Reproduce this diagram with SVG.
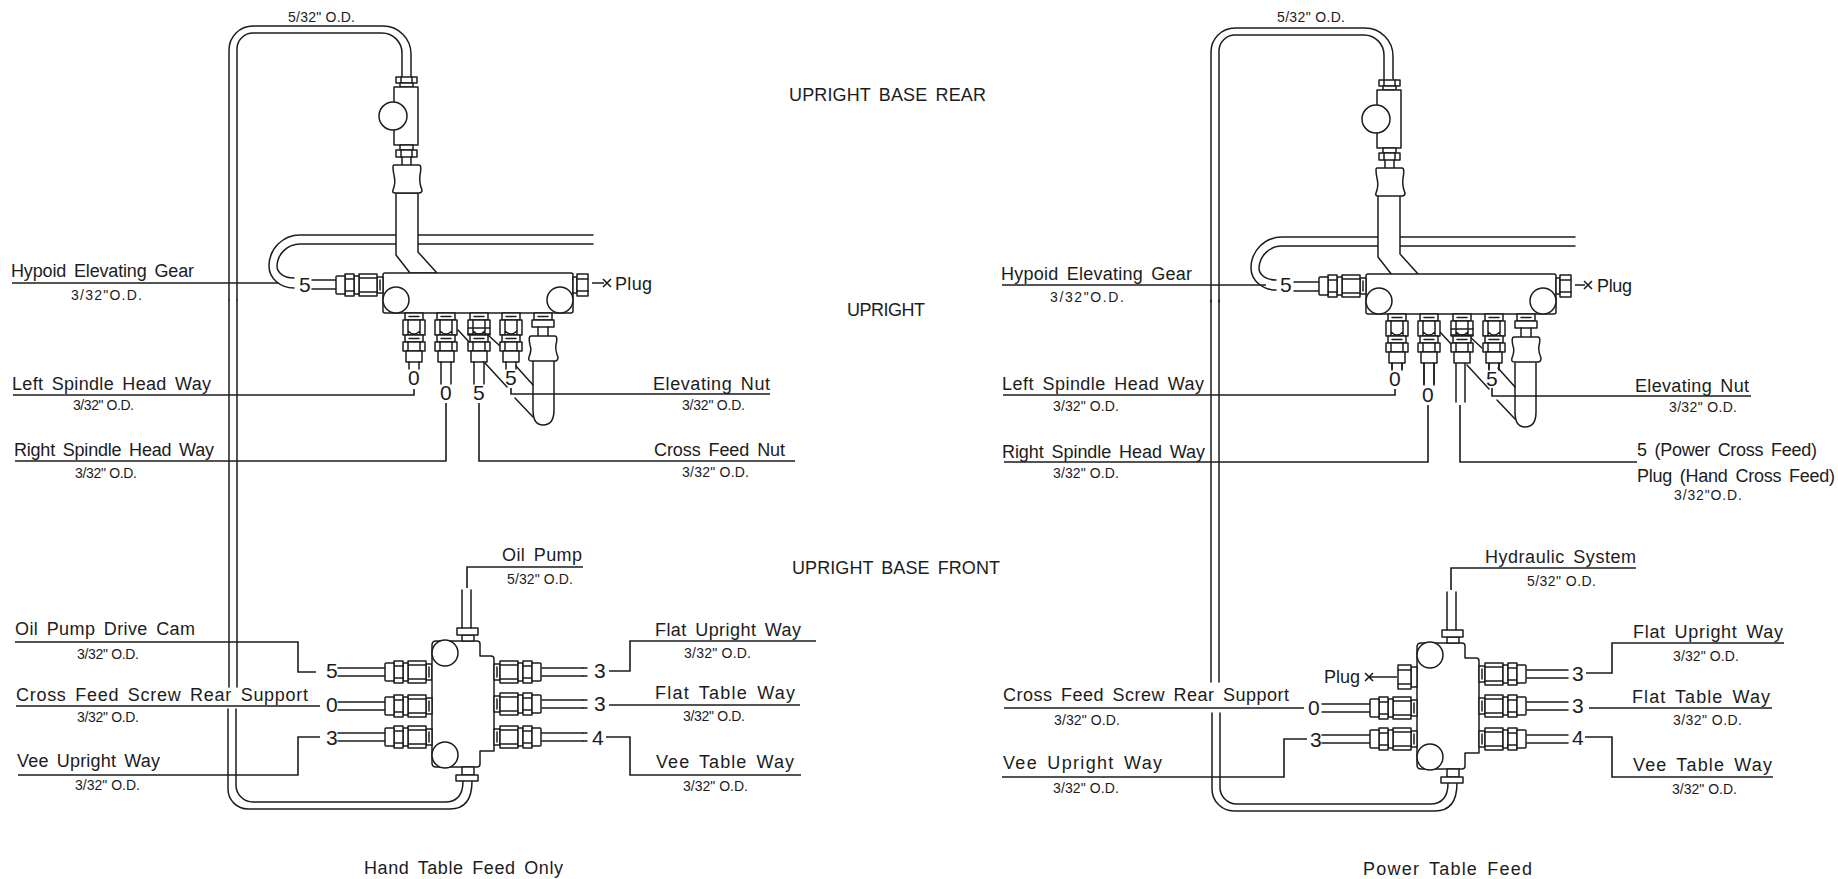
<svg xmlns="http://www.w3.org/2000/svg" width="1838" height="879" viewBox="0 0 1838 879">
<style>
.p{fill:none;stroke:#1c1c1c;stroke-width:1.5;stroke-linecap:round;stroke-linejoin:round}
.f{fill:#fff;stroke:#1c1c1c;stroke-width:1.5;stroke-linejoin:round}
.ld{fill:none;stroke:#1c1c1c;stroke-width:1.6}
text{font-family:"Liberation Sans",Arial,sans-serif;fill:#1c1c1c}
.l{font-size:18px;word-spacing:3px}
.s{font-size:14px}
.h{font-size:18px;word-spacing:3px}
.d{font-size:21px}
</style>
<defs>
<g id="fitH">
<rect class="f" x="-6" y="-8" width="6" height="16"/><path class="p" d="M-3-5V5"/>
<path class="f" d="M-24-11H-6V11H-24Z"/><path class="p" d="M-24-7H-6M-24 7H-6"/>
<rect class="f" x="-29" y="-9" width="5" height="18"/>
<path class="f" d="M-38-11H-29V11H-38Z"/><path class="p" d="M-38-6H-29M-38 6H-29"/>
<path class="f" d="M-38-9H-46Q-47-9-47-8V8Q-47 9-46 9H-38Z"/>
</g>
<g id="fitV">
<rect class="f" x="-9" y="0" width="18" height="7"/><path class="p" d="M-5 3.500H5"/>
<path class="f" d="M-11 7H11V22H-11Z"/><path class="p" d="M-6 7V22M6 7V22M-6 18Q0 24 6 18"/>
<rect class="f" x="-9" y="22" width="18" height="7"/><path class="p" d="M-5 25.500H5"/>
<path class="f" d="M-11 29H11V38H-11Z"/><path class="p" d="M-6 29V38M6 29V38"/>
<rect class="f" x="-8" y="38" width="16" height="11"/>
</g>
<g id="upperTube">
<path class="p" d="M593 235H300A31 31 0 0 0 269 266C269 278 280 288 294 288"/>
<path class="p" d="M593 244H300A23 23 0 0 0 277 266C277 273 284 278 294 278"/>
<path class="p" d="M312 280H337M312 289H337"/>
<path class="p" d="M402 77V53A20 20 0 0 0 382 33H253A16 16 0 0 0 237 49V300"/>
<path class="p" d="M411 77V54A28 28 0 0 0 383 26H253A24 24 0 0 0 229 50V300"/>
<path class="f" d="M396 193V255L410 273H437L418 252V193Z"/>
<path class="p" d="M533 361V410Q533 425 543 425Q554 425 554 410V361"/>
<path class="p" d="M515 398L533 417M516 366L533 385M485 363L507 387M458 330L470 343M488 335L500 346"/>
</g>
<g id="upperManifold">
<rect class="f" x="383" y="273" width="190" height="40" rx="2"/>
<circle class="f" cx="396" cy="300" r="13"/><circle class="f" cx="560" cy="300" r="13"/>
<use href="#fitH" x="383" y="285"/>
<rect class="f" x="573" y="277" width="4" height="16"/>
<path class="f" d="M577 274H588V296H577Z"/><path class="p" d="M577 279H588M577 291H588"/>
<use href="#fitV" x="414" y="313"/><use href="#fitV" x="446" y="313"/><use href="#fitV" x="479" y="313"/><use href="#fitV" x="511" y="313"/>
<path class="p" d="M468 328H490M468 334H490"/>
<path class="p" d="M409 362V369M419 362V369M441 362V384M451 362V384M506 362V369M516 362V369"/>
<rect class="f" x="534" y="313" width="18" height="7"/><path class="p" d="M538 316.500H548"/>
<path class="f" d="M532 320H554V327H532Z"/><path class="p" d="M538 327V336M548 327V336"/>
<path class="f" d="M531 336H555Q558 336 556 345Q555 350 558 357Q558 361 555 361H531Q528 361 529 357Q532 350 530 345Q528 336 531 336Z"/>
</g>
<g id="valve">
<path class="f" d="M396 77H417V83H396Z"/><path class="p" d="M401 77V83M412 77V83"/>
<rect class="f" x="400" y="83" width="13" height="4"/>
<rect class="f" x="394" y="87" width="24" height="58"/>
<circle class="f" cx="393" cy="116" r="14"/>
<rect class="f" x="400" y="145" width="13" height="5"/>
<path class="f" d="M396 150H417V157H396Z"/><path class="p" d="M401 150V157M412 150V157"/>
<path class="p" d="M402 157V165M411 157V165"/>
<path class="f" d="M394 165H419Q422 165 420 175Q419 183 422 190Q422 193 419 193H395Q392 193 393 190Q396 183 394 175Q392 165 394 165Z"/>
</g>
<g id="lowerManifold">
<path class="f" d="M436 641H477Q480 641 480 644V656H491Q494 656 494 659V751H480V764Q480 767 477 767H436Q432 767 432 763V645Q432 641 436 641Z"/>
<circle class="f" cx="445" cy="653" r="13"/><circle class="f" cx="445" cy="755" r="13"/>
<rect class="f" x="462" y="635" width="12" height="6"/>
<path class="f" d="M457 628H478V635H457Z"/>
<path class="p" d="M462 590V628M471 590V628"/>
<rect class="f" x="462" y="767" width="12" height="8"/>
<path class="f" d="M456 775H478V781H456Z"/>
<use href="#fitH" x="432" y="706"/><use href="#fitH" x="432" y="737"/>
<use href="#fitH" transform="translate(494 672) scale(-1 1)"/><use href="#fitH" transform="translate(494 704) scale(-1 1)"/><use href="#fitH" transform="translate(494 737) scale(-1 1)"/>
<path class="p" d="M542 668H583M542 676H583M542 700H583M542 708H583M542 733H583M542 741H583"/>
</g>
</defs>
<rect width="1838" height="879" fill="#fff"/>
<g id="connectors">
<use href="#upperTube"/>
<use href="#upperTube" x="982" y="2"/>
<path class="p" d="M229 300V687M237 300V687M228 709V789A20 20 0 0 0 248 809H450Q472 809 472 781M236 709V785A17 17 0 0 0 253 802H445Q463 802 463 781"/>
<path class="p" d="M1211 300V682M1219 300V682M1212 713V789A22 22 0 0 0 1234 811H1435Q1457 811 1457 783M1220 713V786A17 17 0 0 0 1237 804H1430Q1448 804 1448 783"/>
<path class="p" d="M338 668H385M338 676H385M338 702H385M338 710H385M338 733H385M338 741H385M583 668H587M583 676H587M583 700H587M583 708H587M583 733H587M583 741H587"/>
<path class="ld" d="M12 283H278M13 395H414V389M15 461H446V403M479 403V461H795M511 388V394H770"/>
<path class="ld" d="M592 283H604M603 279L611 287M611 279L603 287"/>
<path class="ld" d="M15 642H298V672H316M16 706H320M18 775H298V737H320M467 588V567H583"/>
<path class="ld" d="M816 641H630V671H609M800 705H609M801 775H630V737H606"/>
<path class="ld" d="M1002 285H1266M1003 395H1395V389M1004 462H1428V405M1460 405V462H1637M1492 388V396H1751"/>
<path class="ld" d="M1575 285H1585M1584 281L1592 289M1592 281L1584 289"/>
<path class="ld" d="M1004 708H1304M1002 777H1284V739H1307M1451 590V568H1636"/>
<path class="ld" d="M1784 643H1612V673H1586M1772 708H1589M1773 777H1612V737H1585"/>
<path class="ld" d="M1397 677H1369M1365 673L1373 681M1373 673L1365 681"/>
<path class="p" d="M1392 362V369M1402 362V369M1424 362V384M1434 362V384M1456 362V402M1465 362V402M1489 362V369M1499 362V369"/>
<path class="p" d="M1322 704H1370M1322 712H1370M1322 735H1370M1322 743H1370"/>
</g>
<g id="valve-left"><use href="#valve"/></g>
<g id="valve-right"><use href="#valve" x="983" y="3"/></g>
<g id="manifold-upper-left">
<use href="#upperManifold"/>
<path class="p" d="M474 362V384M484 362V384"/>
</g>
<g id="manifold-upper-right"><use href="#upperManifold" x="983" y="1"/></g>
<g id="manifold-lower-left">
<use href="#fitH" x="432" y="672"/>
<use href="#lowerManifold"/>
</g>
<g id="manifold-lower-right">
<use href="#lowerManifold" x="985" y="2"/>
<path class="f" d="M1411 667H1417V687H1411Z"/><path class="f" d="M1398 665H1411V689H1398Z"/><path class="p" d="M1398 670H1411M1398 684H1411"/>
</g>

<g id="digits-left">
<text class="d" x="299" y="292">5</text><text class="d" x="408" y="385">0</text><text class="d" x="440" y="400">0</text><text class="d" x="473" y="400">5</text><text class="d" x="505" y="385">5</text>
<text class="d" x="326" y="678">5</text><text class="d" x="326" y="712">0</text><text class="d" x="326" y="745">3</text>
<text class="d" x="594" y="678">3</text><text class="d" x="594" y="711">3</text><text class="d" x="592" y="745">4</text>
</g>
<g id="digits-right">
<text class="d" x="1280" y="292">5</text><text class="d" x="1389" y="386">0</text><text class="d" x="1422" y="402">0</text><text class="d" x="1486" y="386">5</text>
<text class="d" x="1308" y="715">0</text><text class="d" x="1310" y="747">3</text>
<text class="d" x="1572" y="681">3</text><text class="d" x="1572" y="713">3</text><text class="d" x="1572" y="745">4</text>
</g>
<g id="headings">
<text class="h" x="789" y="101" textLength="197">UPRIGHT BASE REAR</text>
<text class="h" x="847" y="316" textLength="78">UPRIGHT</text>
<text class="h" x="792" y="574" textLength="208">UPRIGHT BASE  FRONT</text>
<text class="h" x="364" y="874" textLength="199">Hand Table Feed Only</text>
<text class="h" x="1363" y="875" textLength="169">Power Table Feed</text>
</g>
<g id="labels-left">
<text class="s" x="288" y="22" textLength="67">5/32" O.D.</text>
<text class="l" x="11" y="277" textLength="183">Hypoid Elevating Gear</text><text class="s" x="71" y="300" textLength="71">3/32"O.D.</text>
<text class="l" x="12" y="390" textLength="199">Left Spindle Head Way</text><text class="s" x="73" y="410" textLength="61">3/32" O.D.</text>
<text class="l" x="14" y="456" textLength="200">Right Spindle Head Way</text><text class="s" x="75" y="478" textLength="62">3/32" O.D.</text>
<text class="l" x="615" y="290" textLength="37">Plug</text>
<text class="l" x="653" y="390" textLength="117">Elevating Nut</text><text class="s" x="682" y="410" textLength="63">3/32" O.D.</text>
<text class="l" x="654" y="456" textLength="131">Cross Feed Nut</text><text class="s" x="682" y="477" textLength="67">3/32" O.D.</text>
<text class="l" x="502" y="561" textLength="80">Oil Pump</text><text class="s" x="507" y="584" textLength="66">5/32" O.D.</text>
<text class="l" x="15" y="635" textLength="180">Oil Pump Drive Cam</text><text class="s" x="77" y="659" textLength="62">3/32" O.D.</text>
<text class="l" x="16" y="701" textLength="292">Cross Feed Screw Rear Support</text><text class="s" x="77" y="722" textLength="62">3/32" O.D.</text>
<text class="l" x="17" y="767" textLength="143">Vee Upright Way</text><text class="s" x="75" y="790" textLength="65">3/32" O.D.</text>
<text class="l" x="655" y="636" textLength="146">Flat Upright Way</text><text class="s" x="684" y="658" textLength="67">3/32" O.D.</text>
<text class="l" x="655" y="699" textLength="140">Flat Table Way</text><text class="s" x="683" y="721" textLength="62">3/32" O.D.</text>
<text class="l" x="656" y="768" textLength="138">Vee Table Way</text><text class="s" x="683" y="791" textLength="65">3/32" O.D.</text>
</g>
<g id="labels-right">
<text class="s" x="1277" y="22" textLength="68">5/32" O.D.</text>
<text class="l" x="1001" y="280" textLength="191">Hypoid Elevating Gear</text><text class="s" x="1050" y="302" textLength="74">3/32"O.D.</text>
<text class="l" x="1002" y="390" textLength="202">Left Spindle Head Way</text><text class="s" x="1053" y="411" textLength="66">3/32" O.D.</text>
<text class="l" x="1002" y="458" textLength="203">Right Spindle Head Way</text><text class="s" x="1053" y="478" textLength="66">3/32" O.D.</text>
<text class="l" x="1597" y="292" textLength="35">Plug</text>
<text class="l" x="1635" y="392" textLength="114">Elevating Nut</text><text class="s" x="1669" y="412" textLength="68">3/32" O.D.</text>
<text class="l" x="1637" y="456" textLength="180">5 (Power Cross Feed)</text>
<text class="l" x="1637" y="482" textLength="198">Plug (Hand Cross Feed)</text><text class="s" x="1674" y="500" textLength="68">3/32"O.D.</text>
<text class="l" x="1485" y="563" textLength="151">Hydraulic System</text><text class="s" x="1527" y="586" textLength="69">5/32" O.D.</text>
<text class="l" x="1324" y="683" textLength="36">Plug</text>
<text class="l" x="1003" y="701" textLength="286">Cross Feed Screw Rear Support</text><text class="s" x="1054" y="725" textLength="66">3/32" O.D.</text>
<text class="l" x="1003" y="769" textLength="159">Vee Upright Way</text><text class="s" x="1053" y="793" textLength="66">3/32" O.D.</text>
<text class="l" x="1633" y="638" textLength="150">Flat Upright Way</text><text class="s" x="1673" y="661" textLength="66">3/32" O.D.</text>
<text class="l" x="1632" y="703" textLength="138">Flat Table Way</text><text class="s" x="1673" y="725" textLength="69">3/32" O.D.</text>
<text class="l" x="1633" y="771" textLength="139">Vee Table Way</text><text class="s" x="1672" y="794" textLength="65">3/32" O.D.</text>
</g>
</svg>
